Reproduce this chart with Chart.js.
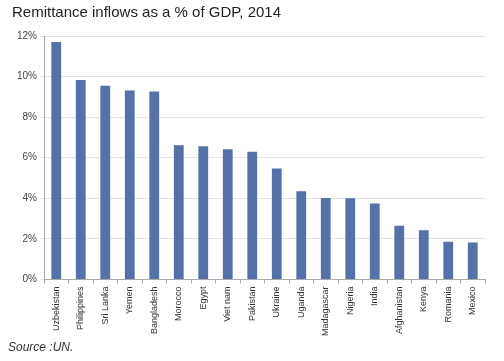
<!DOCTYPE html>
<html>
<head>
<meta charset="utf-8">
<script src="https://cdn.jsdelivr.net/npm/chart.js@4"></script>
<style>
  body { margin: 0; background: #fff; }
  #wrap { position: relative; width: 504px; height: 361px; }
  #mycanvas { position: absolute; left: 0; top: 0; }
  #title { position: absolute; left: 12px; top: 3px; font: 15px "Liberation Sans", Arial, sans-serif; color: #222; }
  #source { position: absolute; left: 8px; top: 340px; font: italic 12px "Liberation Sans", Arial, sans-serif; color: #333; }
</style>
</head>
<body>
<div id="wrap">
  <canvas id="mycanvas" width="504" height="361"></canvas>
  <div id="title">Remittance inflows as a % of GDP, 2014</div>
  <div id="source">Source :UN.</div>
</div>
<script>
var countries = ['Uzbekistan','Philippines','Sri Lanka','Yemen','Bangladesh','Morocco','Egypt','Viet nam','Pakistan','Ukraine','Uganda','Madagascar','Nigeria','India','Afghanistan','Kenya','Romania','Mexico'];
var remittance = [11.7, 9.83, 9.55, 9.32, 9.27, 6.62, 6.56, 6.42, 6.3, 5.47, 4.35, 4.02, 4.0, 3.74, 2.65, 2.42, 1.86, 1.82];
var yTicks = [0, 2, 4, 6, 8, 10, 12];

var chartdata = {
    labels: countries,
    datasets: [{
        label: 'Remittance inflows',
        backgroundColor: '#5670a8',
        borderWidth: 0,
        barPercentage: 0.4,
        categoryPercentage: 1,
        data: remittance
    }]
};

var ctx = document.getElementById('mycanvas');
var barGraph = new Chart(ctx, {
    type: 'bar',
    data: chartdata,
    options: {
        responsive: false,
        animation: false,
        layout: { padding: { left: 14, right: 19, top: 36, bottom: 22 } },
        plugins: {
            legend: { display: false },
            tooltip: { enabled: false },
            title: { display: false }
        },
        scales: {
            x: {
                grid: { offset: true, drawOnChartArea: false, drawTicks: true, tickLength: 4, color: '#aaa' },
                border: { color: '#aaa' },
                ticks: {
                    minRotation: 90, maxRotation: 90, autoSkip: false,
                    color: '#333',
                    font: { family: '"Liberation Sans", Arial, sans-serif', size: 9 }
                }
            },
            y: {
                min: 0, max: 12,
                afterBuildTicks: function(axis) {
                    axis.ticks = yTicks.map(function(v){ return { value: v }; });
                },
                grid: { color: '#e4e4e4', tickLength: 4 },
                border: { color: '#aaa' },
                ticks: {
                    color: '#444',
                    font: { family: '"Liberation Sans", Arial, sans-serif', size: 10 },
                    callback: function(v) { return v + '%'; }
                }
            }
        }
    }
});
</script>
</body>
</html>
